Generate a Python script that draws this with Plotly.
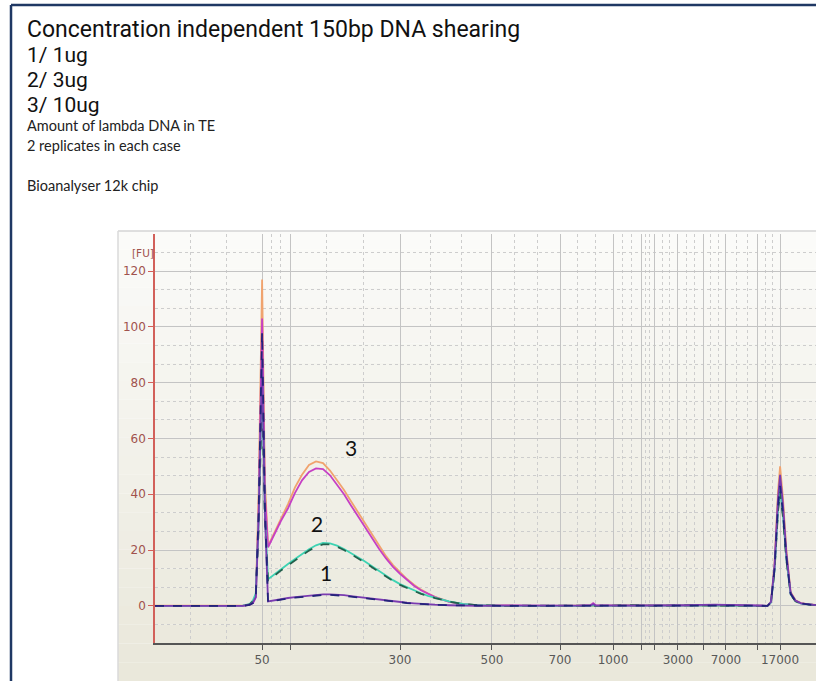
import plotly.graph_objects as go

# migration time (s) shared by every sample trace
time_s = [20, 30, 32.5, 33.5, 34.0, 34.4, 34.8, 35.3, 35.7,
          36.15, 37, 38, 39, 40, 41, 42, 43, 44, 45, 46, 47, 48, 49, 50,
          51, 52, 53, 54, 55, 56, 57, 58, 59, 60, 62, 64, 66,
          70, 75, 80, 82.2, 82.6, 83.0, 88, 92, 96, 100, 104,
          107.5, 108.0, 108.5, 109.0, 109.3, 109.7, 110.2, 110.8, 111.5, 112.3, 113.5, 114.5]

# fluorescence [FU], 2 replicates per amount
fu_10ug_a = [0.1, 0, 0.1, 0.4, 1.2, 3.5, 40, 117, 45,
             21.5, 26, 31.5, 36.5, 42.5, 47, 50.5, 51.8, 51.2, 48.5, 45, 41.5, 37.5, 33.5, 29.5,
             25.5, 21.5, 17.8, 14.6, 12, 9.6, 7.6, 5.8, 4.4, 3.2, 1.5, 0.6, 0.2,
             0, -0.1, 0.1, 0, 0.1, 0, 0.2, 0.1, 0.2, 0.1, 0,
             0, 1.5, 15, 41, 50, 39, 20, 5, 2, 1, 0.5, 0.3]
fu_10ug_b = [0, 0.1, 0, 0.3, 1.0, 3.0, 34, 103, 40,
             21, 25.5, 30.5, 35, 40.5, 45, 48, 49.3, 49, 46.8, 43.5, 40, 36, 32, 28,
             24.2, 20.5, 17, 14, 11.5, 9.2, 7.2, 5.6, 4.2, 3.1, 1.4, 0.6, 0.2,
             0.1, 0, 0, 0.2, 1.0, 0.2, 0.1, 0.2, 0.1, 0.3, 0.1,
             0, 1.3, 13, 36, 44, 34, 17.6, 4.4, 1.8, 0.9, 0.4, 0.2]
fu_3ug_a = [0, 0, 0.1, 0.6, 2.0, 4.5, 30, 82, 33,
            9.5, 11.2, 13.2, 15, 16.8, 18.6, 20.3, 21.7, 22.6, 22.4, 21.6, 20.4, 19, 17.5, 15.9,
            14.2, 12.5, 10.8, 9.2, 7.8, 6.6, 5.5, 4.5, 3.6, 2.9, 1.6, 0.7, 0.2,
            0, 0, -0.1, 0, 0.2, 0, 0.1, 0.2, 0.1, 0.1, 0,
            0, 1.2, 12.6, 34.4, 42, 32.8, 16.8, 4.2, 1.7, 0.8, 0.4, 0.2]
fu_3ug_b = [0, 0, 0, 0.5, 1.6, 4.0, 27, 76, 30,
            9.0, 10.8, 12.7, 14.5, 16.3, 18.1, 19.8, 21.2, 22.0, 22.0, 21.2, 20.0, 18.6, 17.1, 15.5,
            13.8, 12.1, 10.5, 8.9, 7.5, 6.3, 5.3, 4.3, 3.5, 2.8, 1.5, 0.7, 0.2,
            0, 0.1, 0, 0, 0.1, 0, 0.2, 0, 0.2, 0.1, 0.1,
            0, 1.2, 12.3, 33.6, 41, 32, 16.4, 4.1, 1.6, 0.8, 0.4, 0.2]
fu_1ug_a = [0, 0, 0, 0.3, 1.0, 3.0, 33, 98, 36,
            1.4, 1.8, 2.2, 2.6, 2.9, 3.2, 3.5, 3.7, 3.9, 3.9, 3.8, 3.6, 3.3, 3.0, 2.7,
            2.4, 2.0, 1.7, 1.4, 1.2, 1.0, 0.8, 0.6, 0.5, 0.4, 0.2, 0.1, 0,
            0, 0, 0, 0.1, 0.3, 0.1, 0.1, 0.1, 0.2, 0.3, 0.1,
            0, 1.3, 12.9, 35.3, 43, 33.5, 17.2, 4.3, 1.7, 0.9, 0.4, 0.2]
fu_1ug_b = [0, 0, 0, 0.4, 1.2, 3.2, 30, 88, 33,
            1.6, 2.0, 2.4, 2.8, 3.1, 3.4, 3.7, 3.9, 4.1, 4.1, 4.0, 3.8, 3.5, 3.2, 2.9,
            2.5, 2.2, 1.8, 1.5, 1.3, 1.1, 0.9, 0.7, 0.5, 0.4, 0.2, 0.1, 0,
            0.1, 0, 0.1, 0.1, 0.6, 0.1, 0.1, 0.1, 0.2, 0.4, 0.2,
            0, 1.4, 14.1, 38.5, 47, 36.7, 18.8, 4.7, 1.9, 0.9, 0.5, 0.2]

# size ladder: migration time of each ladder band and its label
ladder_time = [35.29, 39.29, 55.0, 68.14, 77.86, 85.43, 89.43, 91.29, 94.71, 98.29, 101.57, 106.14, 109.29]
ladder_text = ["50", "", "300", "500", "700", "1000", "", "", "3000", "", "7000", "", "17000"]

notes = ["1/ 1ug", "2/ 3ug", "3/ 10ug"]

# page geometry (pixels) -> paper coordinates
L, R, T, B = 155, 816, 234, 643


def pp(x, y):
    return (x - L) / (R - L), (B - y) / (B - T)


fig = go.Figure()

traces = [
    (fu_10ug_a, "#F0A36E", "solid"),
    (fu_10ug_b, "#C640C4", "solid"),
    (fu_3ug_a, "#3ED3B3", "solid"),
    (fu_3ug_b, "#22604C", "dash"),
    (fu_1ug_b, "#7A3BB0", "solid"),
    (fu_1ug_a, "#23247A", "dash"),
]
for vals, col, dash in traces:
    fig.add_trace(go.Scatter(x=time_s, y=vals, mode="lines",
                             line=dict(color=col, width=1.8, dash=dash),
                             showlegend=False, hoverinfo="skip"))

# minor gridlines at thirds between ladder bands
edges = [20] + ladder_time
minor_x = []
for a, b in zip(edges[:-1], edges[1:]):
    minor_x += [a + (b - a) / 3, a + 2 * (b - a) / 3]

shapes = []
# panel background, faked gradient
n = 24
for i in range(n):
    y0 = 231 + (681 - 231) * i / n
    y1 = 231 + (681 - 231) * (i + 1) / n
    f = i / (n - 1)
    r = int(251 - f * (251 - 234))
    g = int(251 - f * (251 - 232))
    bb = int(249 - f * (249 - 219))
    x0p, y0p = pp(118, y0)
    x1p, y1p = pp(816, y1)
    shapes.append(dict(type="rect", xref="paper", yref="paper", x0=x0p, x1=x1p,
                       y0=y1p, y1=y0p, fillcolor=f"rgb({r},{g},{bb})",
                       line=dict(width=0), layer="below"))
# panel edges
a0 = pp(118, 231)
a1 = pp(816, 681)
shapes.append(dict(type="line", xref="paper", yref="paper", x0=a0[0], x1=a1[0], y0=a0[1], y1=a0[1],
                   line=dict(color="#D4D4D4", width=1.5), layer="below"))
shapes.append(dict(type="line", xref="paper", yref="paper", x0=a0[0], x1=a0[0], y0=a0[1], y1=a1[1],
                   line=dict(color="#DADADA", width=1.5), layer="below"))
# slide frame
b0 = pp(11, 5)
b1 = pp(820, 681)
shapes.append(dict(type="line", xref="paper", yref="paper", x0=b0[0], x1=b0[0], y0=b0[1], y1=b1[1],
                   line=dict(color="#1F3864", width=2.5)))
shapes.append(dict(type="line", xref="paper", yref="paper", x0=b0[0], x1=b1[0], y0=b0[1], y1=b0[1],
                   line=dict(color="#1F3864", width=2.5)))

annotations = []
big_font = "Roboto, 'Liberation Sans', sans-serif"
small_font = "Lato, 'Open Sans', sans-serif"
x0t = pp(25, 0)[0]
annotations.append(dict(text="Concentration independent 150bp DNA shearing", xref="paper", yref="paper",
                        x=x0t, y=pp(0, 29)[1], xanchor="left", yanchor="middle", showarrow=False,
                        font=dict(family=big_font, size=23, color="#111111")))
for i, t in enumerate(notes):
    annotations.append(dict(text=t, xref="paper", yref="paper", x=x0t, y=pp(0, 55 + 25 * i)[1],
                            xanchor="left", yanchor="middle", showarrow=False,
                            font=dict(family=big_font, size=21, color="#111111")))
for t, yy in [("Amount of lambda DNA in TE", 126), ("2 replicates in each case", 145),
              ("Bioanalyser 12k chip", 186)]:
    annotations.append(dict(text=t, xref="paper", yref="paper", x=x0t, y=pp(0, yy)[1],
                            xanchor="left", yanchor="middle", showarrow=False,
                            font=dict(family=small_font, size=14.5, color="#222222")))
fu = pp(130, 245)
annotations.append(dict(text="[FU]", xref="paper", yref="paper", x=fu[0], y=fu[1], showarrow=False,
                        font=dict(family="DejaVu Sans", size=10.5, color="#A0524D")))
for lab, tx, ty in [("3", 48.0, 56.8), ("2", 43.1, 29.6), ("1", 44.4, 12.1)]:
    annotations.append(dict(text=lab, x=tx, y=ty, showarrow=False,
                            font=dict(family=small_font, size=21, color="#111111")))

fig.update_layout(
    width=816, height=681,
    margin=dict(l=L, r=816 - R, t=T, b=681 - B),
    paper_bgcolor="white",
    plot_bgcolor="rgba(0,0,0,0)",
    shapes=shapes,
    annotations=annotations,
    xaxis=dict(range=[20, 114.43], tickmode="array", tickvals=ladder_time, ticktext=ladder_text,
               showline=True, linecolor="#555555", linewidth=1.5, ticks="outside", ticklen=5,
               tickcolor="#555555", tickfont=dict(family="DejaVu Sans", size=12, color="#585858"),
               showgrid=True, gridcolor="#C4C4C4", gridwidth=1, zeroline=False,
               minor=dict(tickmode="array", tickvals=minor_x, showgrid=True, griddash="dot",
                          gridcolor="#CDCDCD", gridwidth=1, ticks="")),
    yaxis=dict(range=[-13.333, 133.333], tickvals=[0, 20, 40, 60, 80, 100, 120],
               showline=True, linecolor="#D2605A", linewidth=1.5, ticks="outside", ticklen=5,
               tickcolor="#D2605A", tickfont=dict(family="DejaVu Sans", size=12, color="#A0524D"),
               showgrid=True, gridcolor="#C4C4C4", gridwidth=1, zeroline=False,
               minor=dict(dtick=20 / 3, tick0=0, showgrid=True, griddash="dot",
                          gridcolor="#CDCDCD", gridwidth=1, ticks="")),
)

fig.write_html("out.html", config={"displayModeBar": False},
               post_script="document.body.style.margin='0';"
                           "document.body.style.overflow='hidden';")
